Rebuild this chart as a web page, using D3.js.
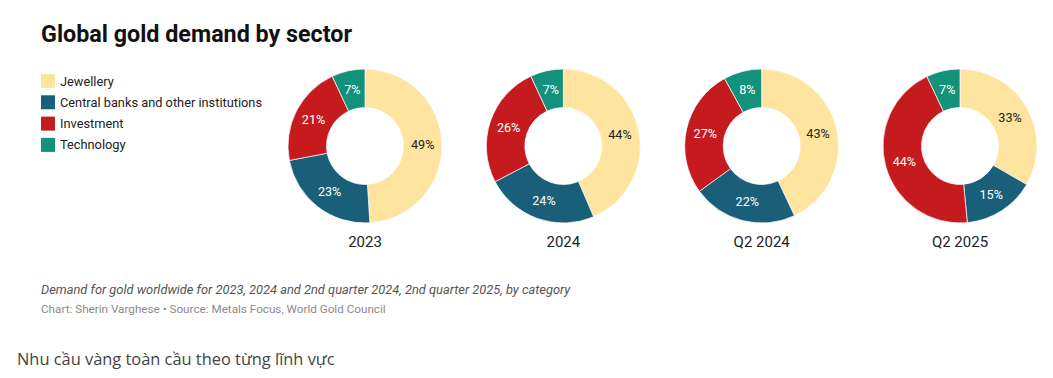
<!DOCTYPE html>
<html><head><meta charset="utf-8">
<script src="https://cdn.jsdelivr.net/npm/d3@7"></script>
<style>
body{margin:0;background:#fff;font-family:Roboto,"Noto Sans",sans-serif;}
</style></head>
<body>
<svg id="c" width="1053" height="378"></svg>
<script>
const sectors = ["Jewellery","Central banks and other institutions","Investment","Technology"];
const periods = ["2023","2024","Q2 2024","Q2 2025"];
const jewellery = [49,44,43,33];
const centralBanks = [23,24,22,15];
const investment = [21,26,27,44];
const technology = [7,7,8,7];
const colors = ["#fee49f","#1a5f7a","#c61b1e","#13917a"];
const labelColors = ["#222","#fff","#fff","#fff"];

const svg = d3.select("#c");
svg.append("text").attr("x",41).attr("y",42).attr("font-size",23.3).attr("font-weight",700)
  .attr("fill","#111").text("Global gold demand by sector");

const lg = svg.append("g");
sectors.forEach((s,i)=>{
  const y = 74 + i*21.3;
  lg.append("rect").attr("x",41).attr("y",y).attr("width",14).attr("height",14).attr("fill",colors[i]);
  lg.append("text").attr("x",60).attr("y",y+11.5).attr("font-size",12.8).attr("fill","#222").text(s);
});

const x = d3.scalePoint().domain(periods).range([365,960]);
const pie = d3.pie().sort(null).value(d=>d.v);
const arc = d3.arc().innerRadius(38.5).outerRadius(77);
const cy = 146;
periods.forEach((p,j)=>{
  const data = [jewellery[j],centralBanks[j],investment[j],technology[j]].map((v,i)=>({v,i}));
  const g = svg.append("g").attr("transform",`translate(${x(p)},${cy})`);
  const arcs = pie(data);
  g.selectAll("path").data(arcs).join("path").attr("d",arc)
    .attr("fill",d=>colors[d.data.i]).attr("stroke","#fff").attr("stroke-width",0.7);
  g.selectAll("text").data(arcs).join("text")
    .attr("transform",d=>`translate(${arc.centroid(d)})`)
    .attr("text-anchor","middle").attr("dy","0.35em").attr("font-size",12.6)
    .attr("fill",d=>labelColors[d.data.i]).text(d=>d.data.v+"%");
  svg.append("text").attr("x",x(p)).attr("y",247).attr("text-anchor","middle")
    .attr("font-size",15).attr("fill","#222").text(p);
});

svg.append("text").attr("x",41).attr("y",294).attr("font-size",12.85).attr("font-style","italic")
  .attr("fill","#555").text("Demand for gold worldwide for 2023, 2024 and 2nd quarter 2024, 2nd quarter 2025, by category");
svg.append("text").attr("x",41).attr("y",313).attr("font-size",11.7).attr("fill","#8a8a8a")
  .text("Chart: Sherin Varghese • Source: Metals Focus, World Gold Council");
svg.append("text").attr("x",17).attr("y",365).attr("font-size",16.4).attr("fill","#444")
  .attr("font-family","'Open Sans',sans-serif").text("Nhu cầu vàng toàn cầu theo từng lĩnh vực");
</script>
</body></html>
